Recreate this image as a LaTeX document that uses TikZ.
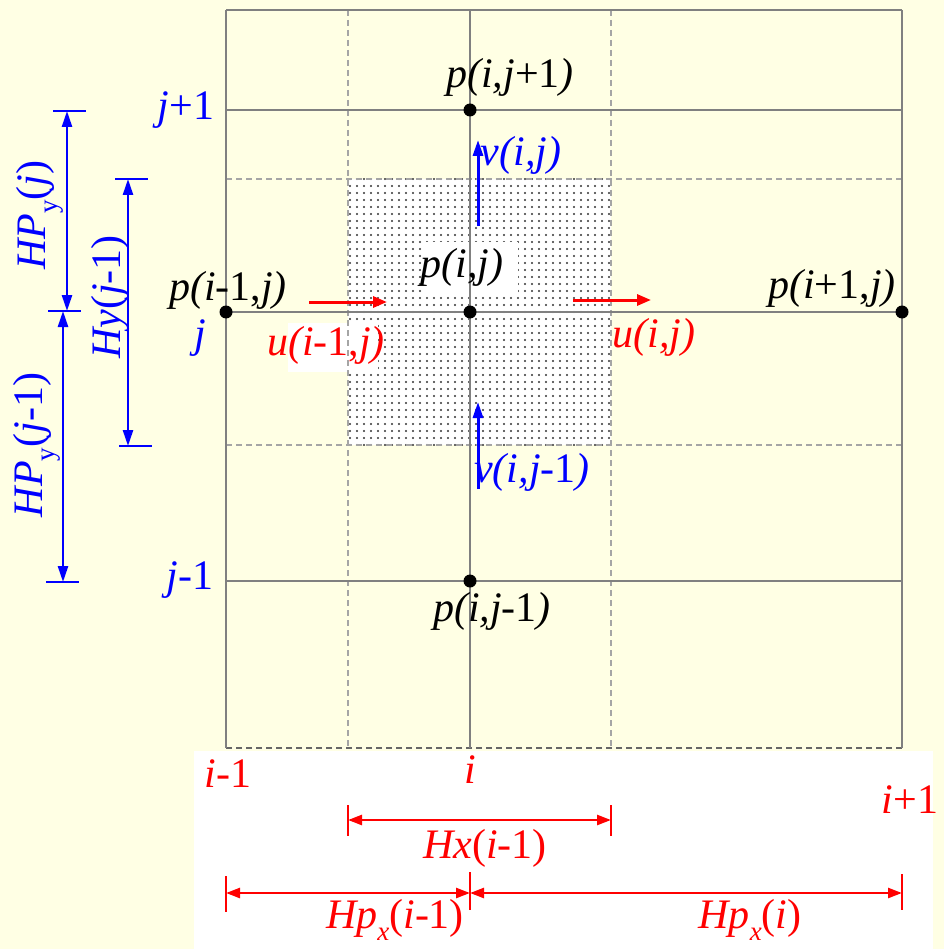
\documentclass[tikz,border=0pt]{standalone}
\usepackage{fontspec}
\setmainfont{Liberation Serif}
\usetikzlibrary{arrows.meta,patterns.meta}
\definecolor{bgyel}{RGB}{255,255,228}
\definecolor{gridgray}{RGB}{128,128,128}
\definecolor{dashgray}{RGB}{165,165,165}
\definecolor{myred}{RGB}{255,0,0}
\definecolor{myblue}{RGB}{0,0,255}
\newcommand{\subup}[1]{\raisebox{-0.28em}{\fontsize{27}{27}\selectfont #1}}
\newcommand{\subit}[1]{\raisebox{-0.28em}{\fontsize{27}{27}\selectfont\itshape #1}}
\begin{document}
\begin{tikzpicture}[x=1pt,y=-1pt,
  gridline/.style={draw=gridgray, line width=2.5pt},
  griddash/.style={draw=dashgray, line width=1.3pt, dash pattern=on 6pt off 4pt},
  bottomdash/.style={draw=gray!80!black, line width=2pt, dash pattern=on 6pt off 4pt},
  ptdot/.style={circle, fill=black, inner sep=0pt, minimum size=13pt},
  lbl/.style={font=\fontsize{42}{44}\selectfont, inner sep=0pt},
  dimred/.style={draw=myred, line width=2.5pt, {Triangle[length=14pt,width=10pt]}-{Triangle[length=14pt,width=10pt]}},
  dimblue/.style={draw=myblue, line width=2.5pt, {Triangle[length=16pt,width=10pt]}-{Triangle[length=16pt,width=10pt]}},
  tickred/.style={draw=myred, line width=2.5pt},
  tickblue/.style={draw=myblue, line width=2.5pt},
  flowred/.style={draw=myred, line width=3pt, -{Triangle[length=14pt,width=11pt]}},
  flowblue/.style={draw=myblue, line width=3pt, -{Triangle[length=16pt,width=10pt]}}
]
\useasboundingbox (0,0) rectangle (944,949);
\fill[bgyel] (0,0) rectangle (944,949);
\fill[white] (194,751) rectangle (933,949);

% shaded control volume
\fill[white] (348,179) rectangle (611,445);
\fill[pattern={Dots[distance=7pt,radius=1.2pt]}, pattern color=black!80] (348,179) rectangle (611,445);

% white patches behind labels
\fill[white] (288,323) rectangle (378,372);
\fill[white] (422,242) rectangle (518,293);

% dashed grid
\foreach \x in {348,611} \draw[griddash] (\x,10) -- (\x,748);
\foreach \y in {179,445} \draw[griddash] (226,\y) -- (902,\y);
\draw[bottomdash] (226,748) -- (902,748);

% solid grid
\draw[gridline] (226,10) -- (902,10);
\foreach \x in {226,470,902} \draw[gridline] (\x,10) -- (\x,748);
\foreach \y in {110,312,581} \draw[gridline] (226,\y) -- (902,\y);

% grid points
\node[ptdot] (pim) at (226,312) {};
\node[ptdot] (pc) at (470,312) {};
\node[ptdot] (pip) at (902,312) {};
\node[ptdot] (pjp) at (470,110) {};
\node[ptdot] (pjm) at (470,581) {};

% point labels
\node[lbl] (Lpjp) at (510,77) {\textit{p(i,j}+1\textit{)}};
\node[lbl] (Lpim) at (228,290) {\textit{p(i}-1,\textit{j)}};
\node[lbl] (Lpc) at (462,267) {\textit{p(i,j)}};
\node[lbl] (Lpip) at (832,288) {\textit{p(i}+1,\textit{j)}};
\node[lbl] (Lpjm) at (492,611) {\textit{p(i,j}-1\textit{)}};

% velocity arrows
\coordinate (ua1) at (309,302); \coordinate (ua2) at (387,302);
\coordinate (ub1) at (573,300); \coordinate (ub2) at (651,300);
\draw[flowred] (ua1) -- (ua2);
\draw[flowred] (ub1) -- (ub2);
\node[lbl, text=myred] (Lua) at (326,345) {\textit{u(i}-1,\textit{j)}};
\node[lbl, text=myred] (Lub) at (654,337) {\textit{u(i,j)}};

\coordinate (va1) at (478,226); \coordinate (va2) at (478,140);
\coordinate (vb1) at (478,489); \coordinate (vb2) at (478,402);
\draw[flowblue] (va1) -- (va2);
\draw[flowblue] (vb1) -- (vb2);
\node[lbl, text=myblue] (Lva) at (521,155) {\textit{v(i,j)}};
\node[lbl, text=myblue] (Lvb) at (532,472) {\textit{v(i,j}-1\textit{)}};

% grid index labels
\node[lbl, text=myblue] (Ljp) at (186,110) {\textit{j}+1};
\node[lbl, text=myblue] (Lj) at (200,338) {\textit{j}};
\node[lbl, text=myblue] (Ljm) at (190,580) {\textit{j}-1};
\node[lbl, text=myred] (Lim) at (228,774) {\textit{i}-1};
\node[lbl, text=myred] (Li) at (470,770) {\textit{i}};
\node[lbl, text=myred] (Lip) at (910,800) {\textit{i}+1};

% vertical dimensions
\coordinate (hpa) at (67,111); \coordinate (hpb) at (67,311);
\coordinate (hpc) at (63,311); \coordinate (hpd) at (63,582);
\coordinate (hya) at (128,179); \coordinate (hyb) at (128,446);
\draw[tickblue] (53,111) -- (86,111);
\draw[tickblue] (48,311) -- (81,311);
\draw[tickblue] (46,582) -- (79,582);
\draw[tickblue] (115,179) -- (148,179);
\draw[tickblue] (119,446) -- (152,446);
\draw[dimblue] (hpa) -- (hpb);
\draw[dimblue] (hpc) -- (hpd);
\draw[dimblue] (hya) -- (hyb);
\node[lbl, text=myblue, rotate=90] (LHPj) at (40,215) {\textit{HP}\subup{y}(\textit{j})};
\node[lbl, text=myblue, rotate=90] (LHPjm) at (37,445) {\textit{HP}\subup{y}(\textit{j}-1)};
\node[lbl, text=myblue, rotate=90] (LHyjm) at (110,297) {\textit{Hy}(\textit{j}-1)};

% horizontal dimensions
\coordinate (hxa) at (348,820); \coordinate (hxb) at (611,820);
\coordinate (hqa) at (226,893); \coordinate (hqb) at (470,893); \coordinate (hqc) at (902,893);
\draw[tickred] (348,805) -- (348,836);
\draw[tickred] (611,805) -- (611,836);
\draw[tickred] (226,876) -- (226,912);
\draw[tickred] (470,872) -- (470,910);
\draw[tickred] (902,874) -- (902,910);
\draw[dimred] (hxa) -- (hxb);
\draw[dimred] (hqa) -- (hqb);
\draw[dimred] (hqb) -- (hqc);
\node[lbl, text=myred] (LHx) at (485,848) {\textit{Hx}(\textit{i}-1)};
\node[lbl, text=myred] (LHpa) at (395,920) {\textit{Hp}\subit{x}(\textit{i}-1)};
\node[lbl, text=myred] (LHpb) at (750,920) {\textit{Hp}\subit{x}(\textit{i})};
\end{tikzpicture}
\end{document}
